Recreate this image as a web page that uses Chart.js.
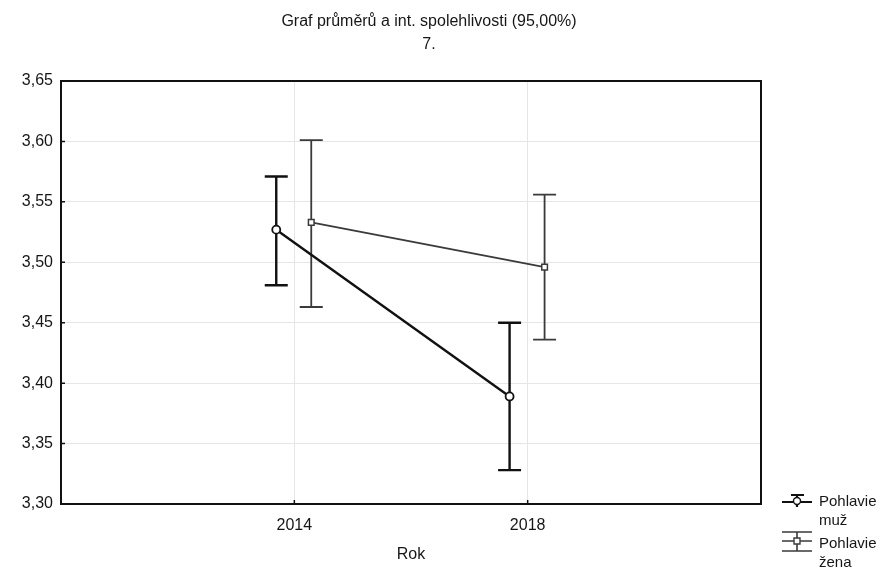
<!DOCTYPE html>
<html>
<head>
<meta charset="utf-8">
<script src="https://cdn.jsdelivr.net/npm/chart.js@4.4.1/dist/chart.umd.min.js"></script>
<style>
  html, body { margin: 0; padding: 0; background: #fff; }
  #wrap { width: 885px; height: 568px; position: relative; }
</style>
</head>
<body>
<div id="wrap"><canvas id="chart"></canvas></div>
<script>
// data
const years = [2014, 2018]
const yTicks = [3.30, 3.35, 3.40, 3.45, 3.50, 3.55, 3.60, 3.65]

const muzMean = [3.527, 3.389]
const muzLow = [3.481, 3.328]
const muzHigh = [3.571, 3.450]

const zenaMean = [3.533, 3.496]
const zenaLow = [3.463, 3.436]
const zenaHigh = [3.601, 3.556]

const titleText = 'Graf průměrů a int. spolehlivosti (95,00%)'
const subtitleText = '7.'
const xTitle = 'Rok'
const legendLabels = [['Pohlavie', 'muž'], ['Pohlavie', 'žena']]

const FONT = '"Liberation Sans", Arial, sans-serif'
const MUZ_SHIFT = -0.31
const ZENA_SHIFT = 0.29

const points = (means, shift) => years.map((yr, i) => ({ x: yr + shift, y: means[i] }))

const errorBars = {
  id: 'errorBars',
  beforeDatasetsDraw(chart) {
    const ctx = chart.ctx
    const x = chart.scales.x
    const y = chart.scales.y
    const sets = [
      { low: muzLow, high: muzHigh, shift: MUZ_SHIFT, color: '#111', width: 2.4 },
      { low: zenaLow, high: zenaHigh, shift: ZENA_SHIFT, color: '#3a3a3a', width: 1.8 }
    ]
    ctx.save()
    sets.forEach(s => {
      ctx.strokeStyle = s.color
      ctx.lineWidth = s.width
      years.forEach((yr, i) => {
        const px = x.getPixelForValue(yr + s.shift)
        const top = y.getPixelForValue(s.high[i])
        const bot = y.getPixelForValue(s.low[i])
        ctx.beginPath()
        ctx.moveTo(px, top); ctx.lineTo(px, bot)
        ctx.moveTo(px - 11.5, top); ctx.lineTo(px + 11.5, top)
        ctx.moveTo(px - 11.5, bot); ctx.lineTo(px + 11.5, bot)
        ctx.stroke()
      })
    })
    ctx.restore()
  },
  afterDraw(chart) {
    const ctx = chart.ctx
    const a = chart.chartArea
    const x = chart.scales.x
    const y = chart.scales.y
    ctx.save()
    // frame
    ctx.strokeStyle = '#111'
    ctx.lineWidth = 2
    ctx.strokeRect(a.left, a.top, a.right - a.left, a.bottom - a.top)
    // inward tick marks
    ctx.lineWidth = 1.5
    ctx.beginPath()
    yTicks.forEach(v => {
      const py = y.getPixelForValue(v)
      ctx.moveTo(a.left, py); ctx.lineTo(a.left + 4, py)
    })
    years.forEach(v => {
      const px = x.getPixelForValue(v)
      ctx.moveTo(px, a.bottom); ctx.lineTo(px, a.bottom - 4)
    })
    ctx.stroke()

    // titles
    ctx.fillStyle = '#161616'
    ctx.textAlign = 'center'
    ctx.textBaseline = 'middle'
    ctx.font = '16px ' + FONT
    ctx.fillText(titleText, 429, 22)
    ctx.fillText(subtitleText, 429, 45)
    ctx.fillText(xTitle, 411, 555)

    // legend
    const items = [
      { top: 495, line: 502, bot: 507, text: 502, color: '#111', width: 2.2, marker: 'circle' },
      { top: 532, line: 541, bot: 551, text: 544, color: '#3a3a3a', width: 1.6, marker: 'rect' }
    ]
    items.forEach((it, k) => {
      ctx.strokeStyle = it.color
      ctx.lineWidth = it.width
      ctx.beginPath()
      ctx.moveTo(782, it.line); ctx.lineTo(812, it.line)
      ctx.moveTo(797, it.top); ctx.lineTo(797, it.bot)
      if (k === 0) {
        ctx.moveTo(791, it.top); ctx.lineTo(804, it.top)
      } else {
        ctx.moveTo(782, it.top); ctx.lineTo(812, it.top)
        ctx.moveTo(782, it.bot); ctx.lineTo(812, it.bot)
      }
      ctx.stroke()
      ctx.fillStyle = '#fff'
      ctx.lineWidth = 1.4
      ctx.beginPath()
      if (it.marker === 'circle') ctx.arc(797, it.line - 1, 3.5, 0, Math.PI * 2)
      else ctx.rect(794, it.line - 3, 6, 6)
      ctx.fill(); ctx.stroke()

      ctx.fillStyle = '#161616'
      ctx.textAlign = 'left'
      ctx.font = '15px ' + FONT
      ctx.fillText(legendLabels[k][0], 819, it.text)
      ctx.fillText(legendLabels[k][1], 819, it.text + 19)
    })
    ctx.restore()
  }
}

new Chart(document.getElementById('chart'), {
  type: 'scatter',
  data: {
    datasets: [
      {
        label: legendLabels[0].join(' '),
        data: points(muzMean, MUZ_SHIFT),
        showLine: true,
        borderColor: '#111',
        borderWidth: 2.4,
        pointStyle: 'circle',
        pointRadius: 4,
        pointBorderWidth: 1.8,
        pointBackgroundColor: '#fff',
        pointBorderColor: '#111'
      },
      {
        label: legendLabels[1].join(' '),
        data: points(zenaMean, ZENA_SHIFT),
        showLine: true,
        borderColor: '#3a3a3a',
        borderWidth: 1.8,
        pointStyle: 'rect',
        pointRadius: 4,
        pointBorderWidth: 1.5,
        pointBackgroundColor: '#fff',
        pointBorderColor: '#3a3a3a'
      }
    ]
  },
  options: {
    responsive: true,
    maintainAspectRatio: false,
    animation: false,
    layout: { padding: { top: 81, right: 124, left: 0, bottom: 0 } },
    plugins: {
      legend: { display: false },
      tooltip: { enabled: false }
    },
    scales: {
      x: {
        type: 'linear',
        min: 2010,
        max: 2022,
        afterFit: s => { s.height = 64 },
        afterBuildTicks: s => { s.ticks = years.map(v => ({ value: v })) },
        border: { display: false },
        grid: { color: '#e6e6e6', lineWidth: 1, drawTicks: false },
        ticks: {
          padding: 12,
          color: '#161616',
          font: { family: FONT, size: 16 },
          callback: v => String(v)
        }
      },
      y: {
        type: 'linear',
        min: 3.30,
        max: 3.65,
        afterFit: s => { s.width = 61 },
        afterBuildTicks: s => { s.ticks = yTicks.map(v => ({ value: v })) },
        border: { display: false },
        grid: { color: '#e6e6e6', lineWidth: 1, drawTicks: false },
        ticks: {
          padding: 8,
          color: '#161616',
          font: { family: FONT, size: 16 },
          callback: v => v.toFixed(2).replace('.', ',')
        }
      }
    }
  },
  plugins: [errorBars]
})
</script>
</body>
</html>
